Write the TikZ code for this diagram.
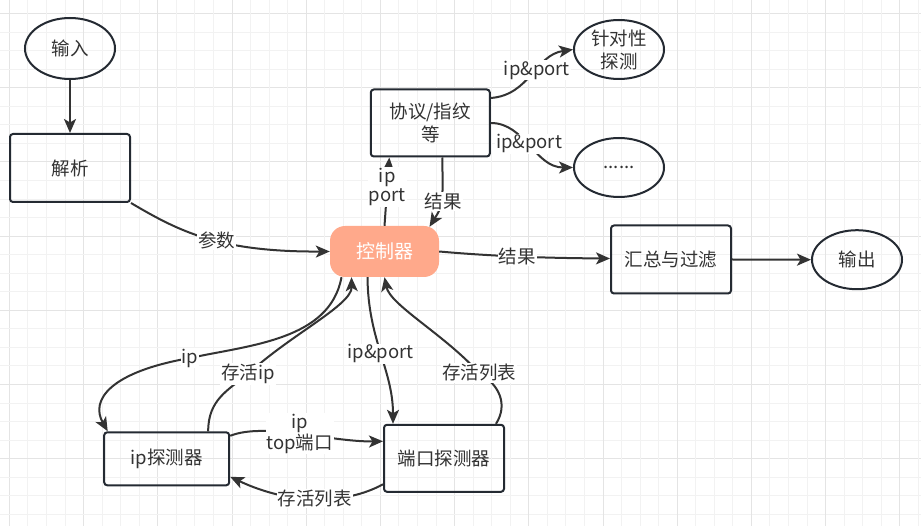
\documentclass[tikz,border=0pt]{standalone}
\usepackage{fontspec}
\setmainfont{Noto Sans CJK SC}
\usetikzlibrary{arrows.meta,shapes.geometric,calc}
\definecolor{edgec}{HTML}{333333}
\definecolor{nodec}{HTML}{242A32}
\definecolor{ctlfill}{HTML}{FFA98B}
\definecolor{txt}{HTML}{333333}
\definecolor{gridminor}{HTML}{F2F2F2}
\definecolor{gridmajor}{HTML}{E4E4E4}
\tikzset{
  base/.style={draw=nodec, line width=2pt, text=txt, inner sep=0pt, align=center,
    font=\fontsize{18.5}{23}\selectfont},
  boxnode/.style={base, rectangle, rounded corners=3pt, minimum width=#1},
  boxnode/.default=120pt,
  ovalnode/.style={base, ellipse, minimum width=90pt, minimum height=59pt},
  ctlnode/.style={rectangle, rounded corners=15pt, fill=ctlfill, text=white,
    minimum width=109pt, minimum height=51pt, inner sep=0pt,
    font=\fontsize{19}{23}\selectfont},
  conn/.style={draw=edgec, line width=2pt,
    -{Stealth[length=14pt,width=12pt,inset=3.5pt]}},
  lbl/.style={fill=white, text=txt, inner sep=1pt, align=center,
    font=\fontsize{18.5}{19}\selectfont}
}
\begin{document}
\begin{tikzpicture}[x=1pt,y=-1pt]
\useasboundingbox (0,0) rectangle (921,526);
\fill[white] (0,0) rectangle (921,526);
% grid
\foreach \i in {0,...,50} {
  \pgfmathsetmacro{\gx}{9.4+18.55*\i}
  \pgfmathsetmacro{\gy}{13.55+18.55*\i}
  \pgfmathtruncatemacro{\mx}{mod(\i,4)}
  \ifnum\mx=0
    \draw[gridmajor, line width=1pt] (\gx,0) -- (\gx,526);
    \draw[gridmajor, line width=1pt] (0,\gy) -- (921,\gy);
  \else
    \draw[gridminor, line width=1pt] (\gx,0) -- (\gx,526);
    \draw[gridminor, line width=1pt] (0,\gy) -- (921,\gy);
  \fi
}
% nodes
\node[ovalnode, minimum height=61pt] (in) at (70,48.5) {输入};
\node[boxnode, minimum height=68pt] (parse) at (70,168) {解析};
\node[ctlnode] (ctl) at (384.5,251.5) {控制器};
\node[boxnode=119pt, minimum height=67pt] (prot) at (430.3,123) {协议/指纹\\等};
\node[ovalnode] (tgt) at (619,49.5) {针对性\\探测};
\node[ovalnode] (etc) at (619,167.5) {......};
\node[boxnode, minimum height=68pt] (sum) at (671,259.5) {汇总与过滤};
\node[ovalnode] (out) at (857,259.7) {输出};
\node[boxnode=125pt, minimum height=53pt] (ipd) at (166.7,458.8) {ip探测器};
\node[boxnode, minimum height=67pt] (portd) at (444,458.3) {端口探测器};
% connectors
\draw[conn] (in.south) -- (parse.north);
\draw[conn] (parse.south east) .. controls (180,232) and (220,252) .. (ctl.west)
  node[lbl, pos=0.55] {参数};
\draw[conn] (ctl.east) .. controls (490,256) and (540,258) .. ([yshift=1pt]sum.west)
  node[lbl, pos=0.5] {结果};
\draw[conn] (sum.east) -- (out.west);
\draw[conn] (ctl.north) -- ([xshift=-41pt]prot.south)
  node[lbl, pos=0.57] {ip\\port};
\draw[conn] ([xshift=12pt]prot.south) .. controls (443,205) .. ([xshift=45pt,yshift=-1pt]ctl.north)
  node[lbl, pos=0.5, xshift=2pt] {结果};
\draw[conn] ([yshift=25pt]prot.east) .. controls (530,95) and (535,55) .. (tgt.west)
  node[lbl, pos=0.57] {ip\&port};
\draw[conn] (prot.east) .. controls (525,123) and (535,167.5) .. (etc.west)
  node[lbl, pos=0.48] {ip\&port};
% controller -> ip detector
\coordinate (m9) at (190,358);
\draw[conn] ([xshift=-43pt]ctl.south) .. controls (330,340) and (250,345) .. (m9)
  .. controls (110,372) and (90,400) .. ([xshift=-59pt]ipd.north);
\node[lbl] at (m9) {ip};
% ip detector -> controller
\coordinate (m10) at (248,374);
\draw[conn] ([xshift=41.5pt]ipd.north) .. controls (208,400) and (228,390) .. (m10)
  .. controls (290,335) and (352,305) .. ([xshift=-33pt]ctl.south);
\node[lbl] at (m10) {存活ip};
% controller -> port detector
\draw[conn] ([xshift=-17pt]ctl.south) .. controls (368,340) and (393,370) .. ([xshift=-51pt]portd.north)
  node[lbl, pos=0.5] {ip\&port};
% port detector -> controller
\coordinate (m12) at (479,373);
\draw[conn] ([xshift=52pt]portd.north) .. controls (508,405) and (500,385) .. (m12)
  .. controls (445,335) and (390,305) .. (ctl.south);
\node[lbl] at (m12) {存活列表};
% ip detector -> port detector
\draw[conn] ([yshift=23pt]ipd.east) .. controls (265,422) and (330,442) .. ([yshift=17pt]portd.west)
  node[lbl, pos=0.5] {ip\\top端口};
% port detector -> ip detector
\draw[conn] ([yshift=-26pt]portd.west) .. controls (345,505) and (290,505) .. ([yshift=-18pt]ipd.east)
  node[lbl, pos=0.5] {存活列表};
\end{tikzpicture}
\end{document}
